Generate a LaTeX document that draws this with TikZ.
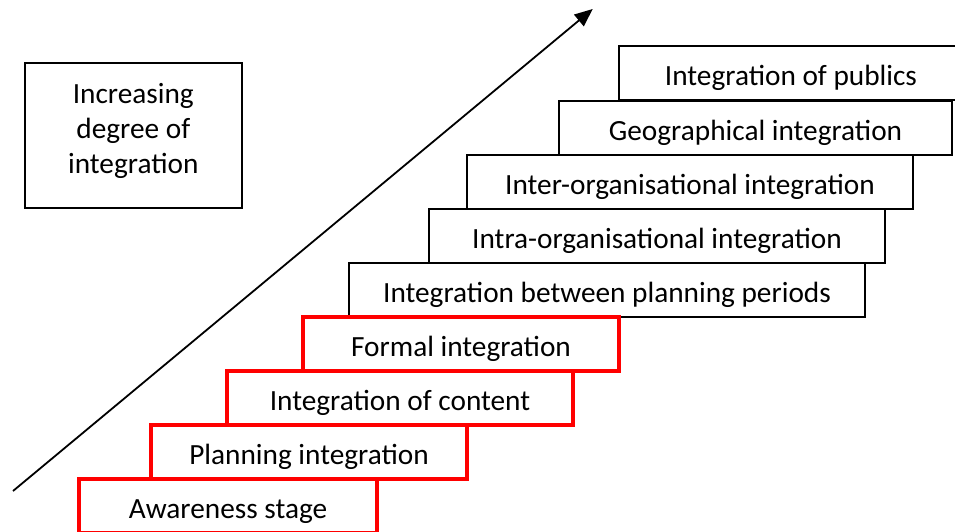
\documentclass[tikz,border=0pt]{standalone}
\usepackage{fontspec}
\setmainfont{Carlito}
\usetikzlibrary{arrows.meta}
\begin{document}
\begin{tikzpicture}[x=1pt,y=-1pt,
  bigfont/.style={font=\fontsize{29.3}{35.3}\selectfont},
  stage/.style={draw=black, line width=1.8pt, anchor=north west, minimum height=54pt,
    inner sep=0pt, outer sep=0pt, text height=25pt, text depth=0pt, bigfont},
  redstage/.style={stage, draw=red, line width=3.5pt},
  labelbox/.style={draw=black, line width=1.8pt, minimum width=216.7pt, minimum height=145.6pt,
    inner sep=0pt, outer sep=0pt, bigfont},
  rise/.style={line width=1.8pt, -{Triangle[length=18pt,width=15pt]}}
]
\useasboundingbox (0,0) rectangle (955,531);
\node[stage, minimum width=344pt] (publics) at (619,46) {Integration of publics};
\node[stage, minimum width=393pt] (geo) at (559,101) {Geographical integration};
\node[stage, minimum width=446pt] (inter) at (467,155) {Inter-organisational integration};
\node[stage, minimum width=456pt] (intra) at (429,209) {Intra-organisational integration};
\node[stage, minimum width=516pt] (periods) at (349,263) {Integration between planning periods};
\node[redstage, minimum width=316pt] (formal) at (303,317) {Formal integration};
\node[redstage, minimum width=346pt] (content) at (227,371) {Integration of content};
\node[redstage, minimum width=316pt] (planning) at (151,425) {Planning integration};
\node[redstage, minimum width=298pt] (aware) at (79,479) {Awareness stage};
\node[labelbox] (label) at (133.3,135.5) {\raisebox{-2.3pt}[0pt][0pt]{\begin{tabular}{@{}c@{}}Increasing\\degree of\\integration\end{tabular}}};
\coordinate (a0) at (13,491);
\coordinate (a1) at (592.7,9);
\draw[rise] (a0) -- (a1);
\end{tikzpicture}
\end{document}
